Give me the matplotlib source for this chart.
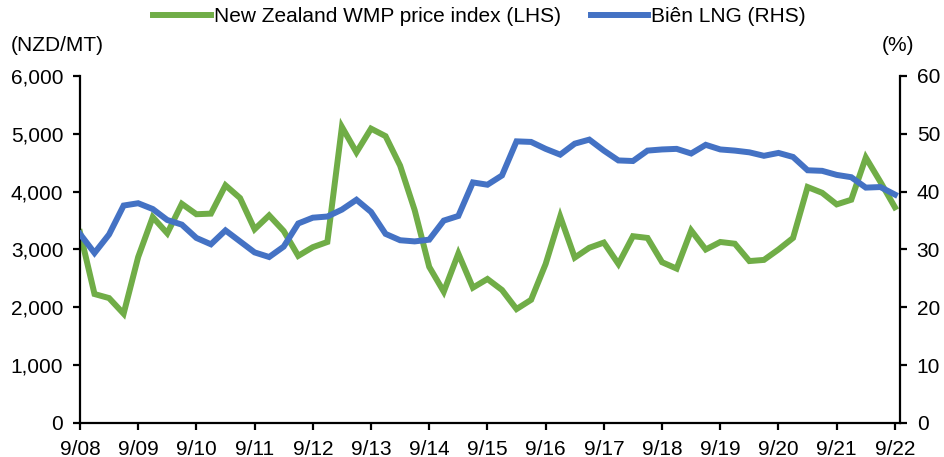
import numpy as np
import matplotlib.pyplot as plt
from matplotlib.ticker import FuncFormatter

plt.rcParams['font.family'] = ['Liberation Sans', 'DejaVu Sans']

# quarterly points, 9/08 .. 9/22
wmp = [3300, 2230, 2160, 1890, 2870, 3560, 3280, 3790, 3610, 3620,
       4110, 3890, 3350, 3590, 3320, 2890, 3040, 3130, 5120, 4680,
       5090, 4960, 4450, 3680, 2700, 2270, 2930, 2340, 2490, 2300,
       1970, 2130, 2750, 3570, 2860, 3030, 3120, 2750, 3230, 3200,
       2780, 2670, 3330, 3000, 3130, 3100, 2800, 2820, 3000, 3200,
       4080, 3980, 3780, 3860, 4590, 4170, 3730]
lng = [32.7, 29.4, 32.6, 37.6, 38.0, 37.0, 35.1, 34.3, 32.0, 30.9,
       33.3, 31.4, 29.5, 28.7, 30.5, 34.5, 35.5, 35.7, 36.9, 38.6,
       36.5, 32.7, 31.6, 31.4, 31.7, 35.0, 35.8, 41.6, 41.2, 42.8,
       48.7, 48.6, 47.4, 46.4, 48.3, 49.0, 47.1, 45.4, 45.3, 47.1,
       47.3, 47.4, 46.6, 48.1, 47.3, 47.1, 46.8, 46.2, 46.7, 46.0,
       43.7, 43.6, 42.9, 42.5, 40.7, 40.8, 39.5]
tick_labels = [f"9/{y:02d}" for y in range(8, 23)]

green = '#70AD47'
blue = '#4472C4'
fs = 15

fig = plt.figure(figsize=(9.44, 4.57), dpi=100)
ax = fig.add_axes([0.0847, 0.0744, 0.8687, 0.7593])
ax2 = ax.twinx()

x = np.arange(len(wmp))
l1, = ax.plot(x, wmp, color=green, lw=4.3, solid_joinstyle='miter',
              label='New Zealand WMP price index (LHS)')
l2, = ax2.plot(x, lng, color=blue, lw=4.3, solid_joinstyle='miter',
               label='Biên LNG (RHS)')

ax.set_xlim(0, 56.35)
ax.set_ylim(0, 6000)
ax2.set_ylim(0, 60)
ax.set_xticks(np.arange(0, 57, 4))
ax.set_xticklabels(tick_labels)
ax.set_yticks(np.arange(0, 6001, 1000))
ax.yaxis.set_major_formatter(FuncFormatter(lambda v, p: f"{int(v):,}"))
ax2.set_yticks(np.arange(0, 61, 10))

for a in (ax, ax2):
    a.spines['top'].set_visible(False)
    for s in ('left', 'right', 'bottom'):
        a.spines[s].set_linewidth(1.6)
    a.tick_params(direction='out', length=5, width=1.6, labelsize=fs, pad=7)
ax.spines['right'].set_visible(False)
ax2.spines['left'].set_visible(False)
ax2.spines['bottom'].set_visible(False)

fig.text(0.011, 0.90, '(NZD/MT)', fontsize=fs, va='center', ha='left')
fig.text(0.969, 0.90, '(%)', fontsize=fs, va='center', ha='right')

fig.legend(handles=[l1, l2], loc='center', bbox_to_anchor=(0.508, 0.963),
           ncol=2, frameon=False, fontsize=fs, handlelength=2.75,
           handletextpad=0.15, columnspacing=1.45)

fig.savefig('out.png', dpi=100)
